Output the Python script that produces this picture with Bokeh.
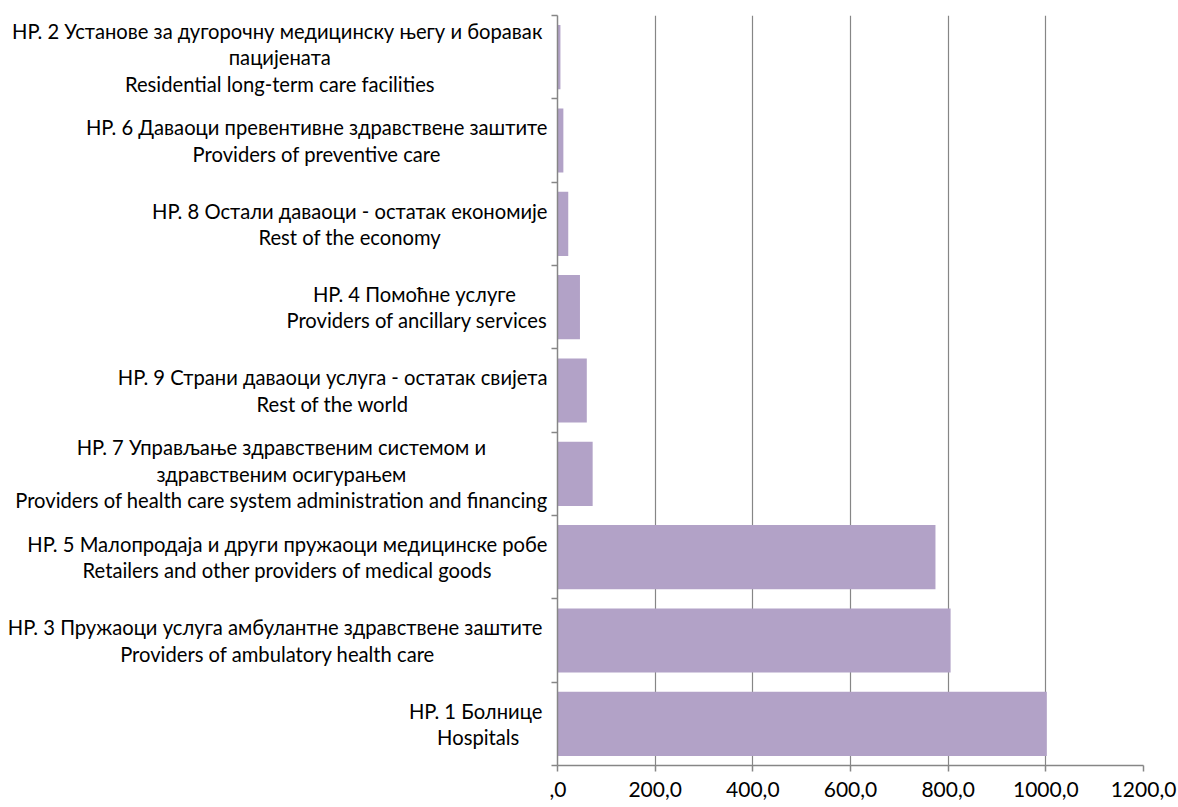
from bokeh.plotting import figure
from bokeh.models import Range1d, FixedTicker, ColumnDataSource
from bokeh.core.properties import value
from bokeh.layouts import row
from bokeh.embed import file_html
from bokeh.resources import INLINE

# categories listed bottom -> top
categories = [
    "HP. 1  Болнице\nHospitals",
    "HP. 3  Пружаоци услуга амбулантне здравствене заштите\nProviders of ambulatory health care",
    "HP. 5 Малопродаја и други пружаоци медицинске робе\nRetailers and other providers of medical goods",
    "HP. 7 Управљање здравственим системом и\nздравственим осигурањем\nProviders of health care system administration and financing",
    "HP. 9 Страни даваоци услуга - остатак свијета\nRest of the world",
    "HP. 4  Помоћне услуге\nProviders of ancillary services",
    "HP. 8 Остали даваоци - остатак економије\nRest of the economy",
    "HP. 6 Даваоци превентивне здравствене заштите\nProviders of preventive care",
    "HP. 2  Установе за дугорочну медицинску његу и боравак\nпацијената\nResidential long-term care facilities",
]
values = [1002, 805, 774, 72, 60, 46, 22, 12, 6]
x_ticks = [0, 200, 400, 600, 800, 1000, 1200]
x_tick_labels = [",0", "200,0", "400,0", "600,0", "800,0", "1000,0", "1200,0"]

FONT = "Lato"
GRAY = "#868686"
BAR = "#B2A2C7"

n = len(categories)
pos = list(range(1, n + 1))
src = ColumnDataSource(dict(y=pos, v=values, name=categories, xl=[1.0] * n))
yr = Range1d(0.5, n + 0.5)

# main bar chart
p = figure(frame_width=586, frame_height=750,
           x_range=Range1d(0, 1200), y_range=yr,
           output_backend="svg", toolbar_location=None,
           min_border_left=8, min_border_top=15, min_border_right=35, min_border_bottom=42)
p.hbar(y="y", right="v", left=0, height=0.77, source=src, fill_color=BAR, line_color=None)
p.outline_line_color = None

xa = p.xaxis[0]
xa.ticker = FixedTicker(ticks=x_ticks)
xa.major_label_overrides = dict(zip(x_ticks, x_tick_labels))
xa.minor_tick_line_color = None
xa.major_tick_out = 6
xa.major_tick_in = 0
xa.major_tick_line_color = GRAY
xa.major_tick_line_width = 1.5
xa.axis_line_color = GRAY
xa.axis_line_width = 1.5
xa.major_label_text_font = FONT
xa.major_label_text_font_size = "21px"
xa.major_label_text_color = "black"
xa.major_label_standoff = 10

ya = p.yaxis[0]
ya.ticker = FixedTicker(ticks=pos, minor_ticks=[i + 0.5 for i in range(n + 1)])
ya.major_label_overrides = {k: "" for k in pos}
ya.major_label_text_font_size = "1px"
ya.major_label_standoff = 0
ya.major_tick_line_color = None
ya.major_tick_out = 0
ya.major_tick_in = 0
ya.minor_tick_out = 6
ya.minor_tick_in = 0
ya.minor_tick_line_color = GRAY
ya.minor_tick_line_width = 1.5
ya.axis_line_color = GRAY
ya.axis_line_width = 1.5

p.xgrid.ticker = FixedTicker(ticks=x_ticks)
p.xgrid.grid_line_color = GRAY
p.xgrid.grid_line_width = 1.2
p.ygrid.grid_line_color = None

# category label panel (lines centred within each label, block right-aligned)
lab = figure(frame_width=549, frame_height=750,
             x_range=Range1d(0, 1), y_range=yr,
             output_backend="svg", toolbar_location=None,
             min_border_left=0, min_border_top=15, min_border_right=0, min_border_bottom=42)
lab.axis.visible = False
lab.grid.visible = False
lab.outline_line_color = None
lab.text(x="xl", y="y", text="name", source=src, anchor="center_right",
         text_align="center", text_baseline="middle", x_offset=-2,
         text_font=value(FONT), text_font_size=value("20.2px"), text_color="black",
         text_line_height=1.1)

layout = row(lab, p)
open("out.html", "w").write(file_html(layout, INLINE))
